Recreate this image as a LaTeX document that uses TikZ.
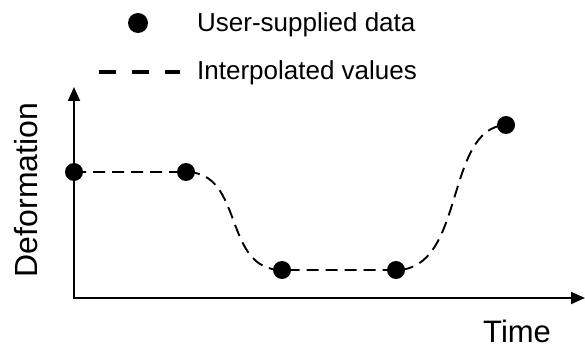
\documentclass[tikz,border=0pt]{standalone}
\usepackage{fontspec}
\setmainfont{Liberation Sans}
\usetikzlibrary{arrows.meta,positioning}

\begin{document}
\begin{tikzpicture}[x=1pt,y=-1pt,
  dot/.style={circle,fill=black,inner sep=0pt,minimum size=18pt},
  axis/.style={{Triangle[length=14pt,width=12pt]}-{Triangle[length=14pt,width=12pt]},line width=2pt},
  interp/.style={dash pattern=on 12pt off 7pt,line width=1.9pt},
  lbl/.style={font=\fontsize{26}{30}\selectfont,anchor=base west,inner sep=0pt}
]
  \useasboundingbox (0,0) rectangle (585,347);

  %% Legend
  \node[dot,minimum size=20pt] (ldot) at (138,23) {};
  \node[lbl] (ldata) at (197,32) {User-supplied data};
  \coordinate (lfrom) at (99,72);
  \coordinate (lto) at (180,72);
  \draw[dash pattern=on 17pt off 16pt,line width=4.5pt] (lfrom) -- (lto);
  \node[lbl] (linterp) at (197,80) {Interpolated values};

  %% Axes
  \coordinate (o) at (74,298);
  \coordinate (ytip) at (74,87);
  \coordinate (xtip) at (585,298);
  \draw[axis] (ytip) -- (o) -- (xtip);
  \node[rotate=90,anchor=base,inner sep=0pt,font=\fontsize{32}{36}\selectfont]
    (ylab) at (37,190) {Deformation};
  \node[anchor=base west,inner sep=0pt,font=\fontsize{31}{36}\selectfont]
    (xlab) at (483,342) {Time};

  %% Data points
  \node[dot] (d1) at (74,172)  {};
  \node[dot] (d2) at (186,172) {};
  \node[dot] (d3) at (282,270) {};
  \node[dot] (d4) at (396,270) {};
  \node[dot] (d5) at (506,125) {};

  %% Interpolated curve
  \draw[interp] (d1.center) -- (d2.center)
    .. controls +(59,0) and +(-60,0) .. (d3.center) -- (d4.center)
    .. controls +(70,0) and +(-62,3) .. (d5.center);
\end{tikzpicture}
\end{document}
